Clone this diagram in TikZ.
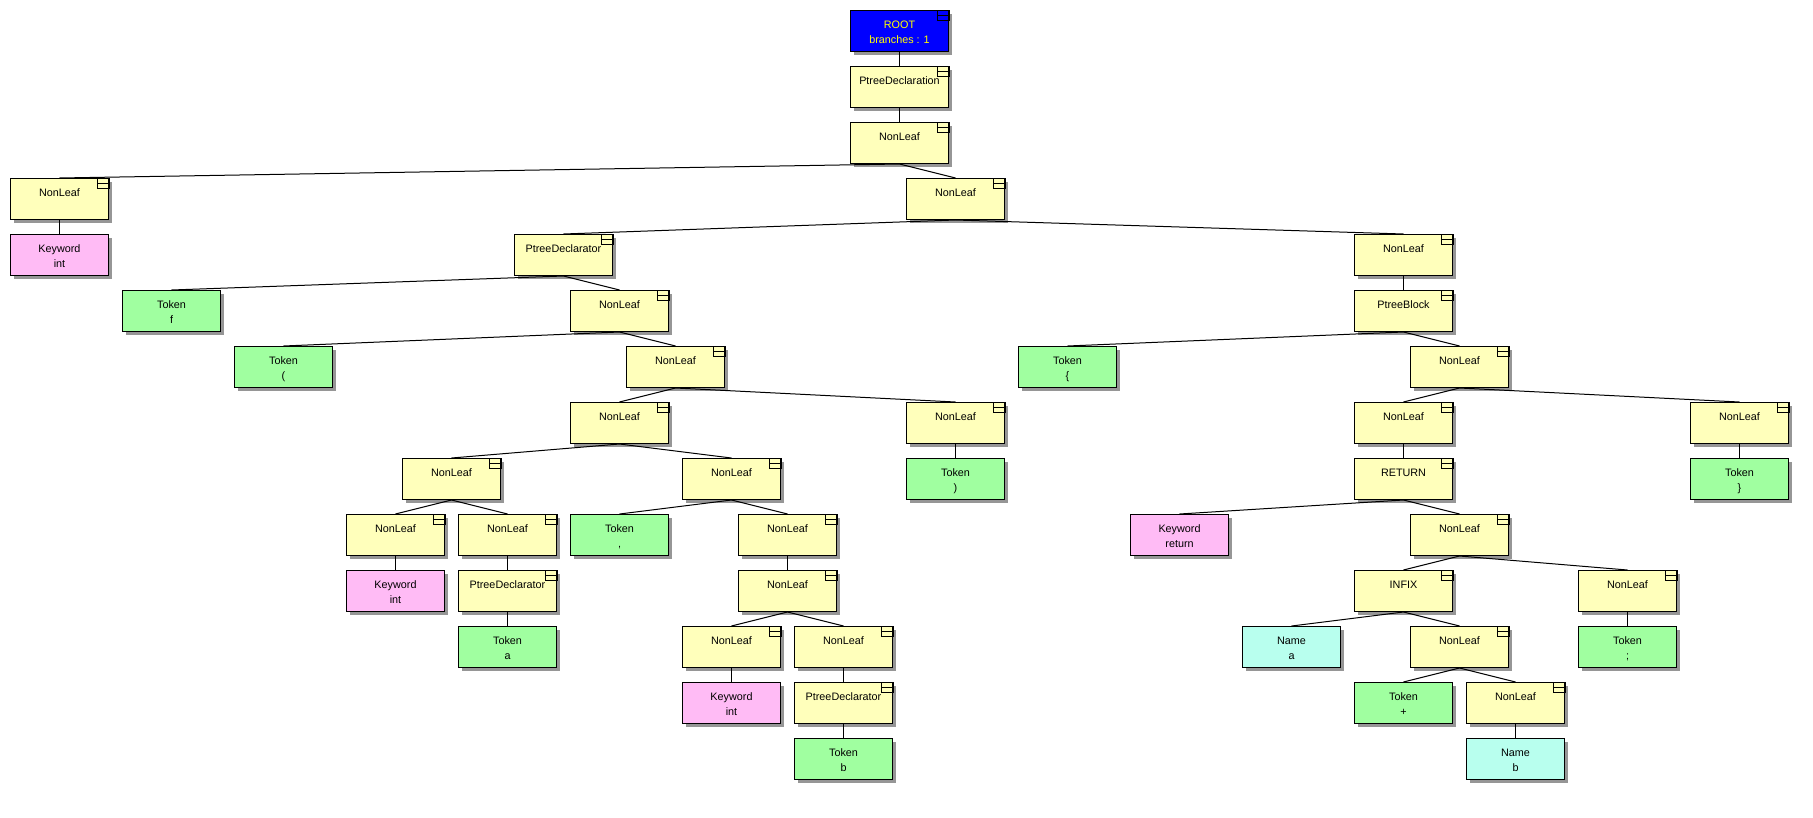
\documentclass[tikz,border=0pt]{standalone}
\usepackage{fontspec}
\setmainfont{Liberation Sans}
\usetikzlibrary{shadows}
\definecolor{yel}{RGB}{255,255,187}
\definecolor{grn}{RGB}{160,255,160}
\definecolor{pnk}{RGB}{255,187,245}
\definecolor{cyn}{RGB}{184,255,238}
\definecolor{shd}{RGB}{150,150,150}
\definecolor{rootblue}{RGB}{0,0,255}
\definecolor{rootyel}{RGB}{255,255,0}
\newcommand{\boxtext}[2]{\parbox[t][41pt][t]{98pt}{\centering\vspace*{7.5pt}\strut #1\\\strut #2}}
\newcommand{\treenode}[6]{\node[#4] (#1) at ({10+56*#2},{10+56*#3}) {\boxtext{#5}{#6}};}
\begin{document}
\begin{tikzpicture}[x=1pt,y=-1pt,
  box/.style={draw=black, line width=1pt, anchor=north west, minimum width=98pt,
    minimum height=41pt, inner sep=0pt, font=\fontsize{10.8}{15}\selectfont,
    general shadow={fill=shd, shadow xshift=3.5pt, shadow yshift=-3.5pt}},
  yl/.style={box, fill=yel},
  gr/.style={box, fill=grn},
  pk/.style={box, fill=pnk},
  cy/.style={box, fill=cyn},
  rt/.style={box, fill=rootblue, text=rootyel},
  edge/.style={line width=1pt, black},
  icon/.style={line width=1pt, black}]
\fill[white] (0,0) rectangle (1813,817);
\useasboundingbox (0,0) rectangle (1813,817);
% level 0-2
\treenode{root}{15}{0}{rt}{ROOT}{branches : 1}
\treenode{pdecl}{15}{1}{yl}{PtreeDeclaration}{}
\treenode{n2}{15}{2}{yl}{NonLeaf}{}
% level 3
\treenode{n3a}{0}{3}{yl}{NonLeaf}{}
\treenode{n3b}{16}{3}{yl}{NonLeaf}{}
% level 4
\treenode{kw1}{0}{4}{pk}{Keyword}{int}
\treenode{pdr1}{9}{4}{yl}{PtreeDeclarator}{}
\treenode{n4}{24}{4}{yl}{NonLeaf}{}
% level 5
\treenode{tf}{2}{5}{gr}{Token}{f}
\treenode{n5}{10}{5}{yl}{NonLeaf}{}
\treenode{pblk}{24}{5}{yl}{PtreeBlock}{}
% level 6
\treenode{tlp}{4}{6}{gr}{Token}{(}
\treenode{n6}{11}{6}{yl}{NonLeaf}{}
\treenode{tlb}{18}{6}{gr}{Token}{\{}
\treenode{n6b}{25}{6}{yl}{NonLeaf}{}
% level 7
\treenode{n7a}{10}{7}{yl}{NonLeaf}{}
\treenode{n7b}{16}{7}{yl}{NonLeaf}{}
\treenode{n7c}{24}{7}{yl}{NonLeaf}{}
\treenode{n7d}{30}{7}{yl}{NonLeaf}{}
% level 8
\treenode{n8a}{7}{8}{yl}{NonLeaf}{}
\treenode{n8b}{12}{8}{yl}{NonLeaf}{}
\treenode{trp}{16}{8}{gr}{Token}{)}
\treenode{ret}{24}{8}{yl}{RETURN}{}
\treenode{trb}{30}{8}{gr}{Token}{\}}
% level 9
\treenode{n9a}{6}{9}{yl}{NonLeaf}{}
\treenode{n9b}{8}{9}{yl}{NonLeaf}{}
\treenode{tcm}{10}{9}{gr}{Token}{,}
\treenode{n9c}{13}{9}{yl}{NonLeaf}{}
\treenode{kwret}{20}{9}{pk}{Keyword}{return}
\treenode{n9d}{25}{9}{yl}{NonLeaf}{}
% level 10
\treenode{kw2}{6}{10}{pk}{Keyword}{int}
\treenode{pdr2}{8}{10}{yl}{PtreeDeclarator}{}
\treenode{n10a}{13}{10}{yl}{NonLeaf}{}
\treenode{infix}{24}{10}{yl}{INFIX}{}
\treenode{n10b}{28}{10}{yl}{NonLeaf}{}
% level 11
\treenode{ta}{8}{11}{gr}{Token}{a}
\treenode{n11a}{12}{11}{yl}{NonLeaf}{}
\treenode{n11b}{14}{11}{yl}{NonLeaf}{}
\treenode{nma}{22}{11}{cy}{Name}{a}
\treenode{n11c}{25}{11}{yl}{NonLeaf}{}
\treenode{tsc}{28}{11}{gr}{Token}{;}
% level 12
\treenode{kw3}{12}{12}{pk}{Keyword}{int}
\treenode{pdr3}{14}{12}{yl}{PtreeDeclarator}{}
\treenode{tplus}{24}{12}{gr}{Token}{+}
\treenode{n12}{26}{12}{yl}{NonLeaf}{}
% level 13
\treenode{tb}{14}{13}{gr}{Token}{b}
\treenode{nmb}{26}{13}{cy}{Name}{b}
% icons
\foreach \n in {root,pdecl,n2,n3a,n3b,pdr1,n4,n5,pblk,n6,n6b,n7a,n7b,n7c,n7d,
  n8a,n8b,ret,n9a,n9b,n9c,n9d,pdr2,n10a,infix,n10b,n11a,n11b,n11c,pdr3,n12}{
  \draw[icon] ([xshift=-12pt]\n.north east) rectangle ([yshift=-10pt]\n.north east);
  \draw[icon] ([xshift=-12pt,yshift=-5pt]\n.north east) -- ([yshift=-5pt]\n.north east);
}
% edges
\foreach \a/\b in {root/pdecl, pdecl/n2, n2/n3a, n2/n3b, n3a/kw1, n3b/pdr1, n3b/n4,
  pdr1/tf, pdr1/n5, n4/pblk, n5/tlp, n5/n6, pblk/tlb, pblk/n6b, n6/n7a, n6/n7b,
  n6b/n7c, n6b/n7d, n7a/n8a, n7a/n8b, n7b/trp, n7c/ret, n7d/trb, n8a/n9a, n8a/n9b,
  n8b/tcm, n8b/n9c, ret/kwret, ret/n9d, n9a/kw2, n9b/pdr2, n9c/n10a, n9d/infix,
  n9d/n10b, pdr2/ta, n10a/n11a, n10a/n11b, infix/nma, infix/n11c, n10b/tsc,
  n11a/kw3, n11b/pdr3, n11c/tplus, n11c/n12, pdr3/tb, n12/nmb}
  \draw[edge] (\a.south) -- (\b.north);
\end{tikzpicture}
\end{document}
